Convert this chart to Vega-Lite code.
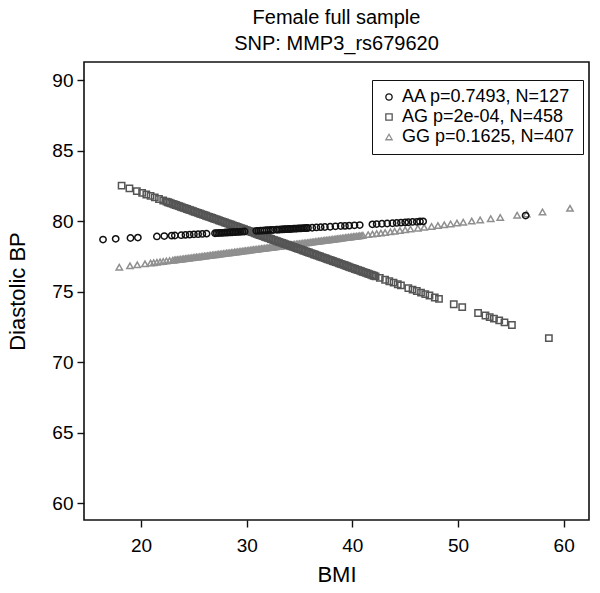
{
  "$schema": "https://vega.github.io/schema/vega-lite/v6.json",
  "width": 505,
  "height": 458,
  "autosize": {"type": "none"},
  "padding": {"left": 84, "top": 62, "right": 11, "bottom": 73},
  "background": "white",
  "config": {
    "font": "Liberation Sans",
    "view": {"stroke": "#111", "strokeWidth": 1.6},
    "axis": {"grid": false, "domain": false, "tickColor": "#111", "tickSize": 7, "tickWidth": 1.4, "labelColor": "#000", "titleColor": "#000", "labelFontSize": 19, "titleFontSize": 22, "titleFontWeight": "normal", "labelFont": "Liberation Sans", "titleFont": "Liberation Sans"},
    "legend": {"labelLimit": 400}
  },
  "title": {
    "text": ["Female full sample", "SNP: MMP3_rs679620"],
    "fontSize": 20,
    "fontWeight": "normal",
    "color": "#000",
    "lineHeight": 26,
    "anchor": "middle",
    "frame": "group",
    "offset": 8
  },
  "data": {
    "values": [
      {"g": "GG", "bmi": 17.94, "dbp": 76.74},
      {"g": "GG", "bmi": 18.95, "dbp": 76.84},
      {"g": "GG", "bmi": 19.64, "dbp": 76.91},
      {"g": "GG", "bmi": 20.37, "dbp": 76.98},
      {"g": "GG", "bmi": 20.9, "dbp": 77.03},
      {"g": "GG", "bmi": 21.2, "dbp": 77.06},
      {"g": "GG", "bmi": 21.5, "dbp": 77.09},
      {"g": "GG", "bmi": 21.8, "dbp": 77.12},
      {"g": "GG", "bmi": 22.1, "dbp": 77.15},
      {"g": "GG", "bmi": 22.4, "dbp": 77.18},
      {"g": "GG", "bmi": 22.7, "dbp": 77.21},
      {"g": "GG", "bmi": 23.0, "dbp": 77.24},
      {"g": "GG", "bmi": 23.15, "dbp": 77.25},
      {"g": "GG", "bmi": 23.3, "dbp": 77.27},
      {"g": "GG", "bmi": 23.45, "dbp": 77.28},
      {"g": "GG", "bmi": 23.6, "dbp": 77.29},
      {"g": "GG", "bmi": 23.75, "dbp": 77.31},
      {"g": "GG", "bmi": 23.9, "dbp": 77.32},
      {"g": "GG", "bmi": 24.05, "dbp": 77.34},
      {"g": "GG", "bmi": 24.2, "dbp": 77.35},
      {"g": "GG", "bmi": 24.35, "dbp": 77.37},
      {"g": "GG", "bmi": 24.5, "dbp": 77.38},
      {"g": "GG", "bmi": 24.65, "dbp": 77.4},
      {"g": "GG", "bmi": 24.8, "dbp": 77.41},
      {"g": "GG", "bmi": 24.95, "dbp": 77.43},
      {"g": "GG", "bmi": 25.1, "dbp": 77.44},
      {"g": "GG", "bmi": 25.25, "dbp": 77.46},
      {"g": "GG", "bmi": 25.4, "dbp": 77.47},
      {"g": "GG", "bmi": 25.55, "dbp": 77.48},
      {"g": "GG", "bmi": 25.7, "dbp": 77.5},
      {"g": "GG", "bmi": 25.85, "dbp": 77.51},
      {"g": "GG", "bmi": 26.0, "dbp": 77.53},
      {"g": "GG", "bmi": 26.15, "dbp": 77.54},
      {"g": "GG", "bmi": 26.3, "dbp": 77.56},
      {"g": "GG", "bmi": 26.45, "dbp": 77.57},
      {"g": "GG", "bmi": 26.6, "dbp": 77.59},
      {"g": "GG", "bmi": 26.75, "dbp": 77.6},
      {"g": "GG", "bmi": 26.9, "dbp": 77.62},
      {"g": "GG", "bmi": 27.05, "dbp": 77.63},
      {"g": "GG", "bmi": 27.2, "dbp": 77.65},
      {"g": "GG", "bmi": 27.35, "dbp": 77.66},
      {"g": "GG", "bmi": 27.5, "dbp": 77.68},
      {"g": "GG", "bmi": 27.65, "dbp": 77.69},
      {"g": "GG", "bmi": 27.8, "dbp": 77.71},
      {"g": "GG", "bmi": 27.95, "dbp": 77.72},
      {"g": "GG", "bmi": 28.1, "dbp": 77.74},
      {"g": "GG", "bmi": 28.25, "dbp": 77.75},
      {"g": "GG", "bmi": 28.4, "dbp": 77.76},
      {"g": "GG", "bmi": 28.55, "dbp": 77.78},
      {"g": "GG", "bmi": 28.7, "dbp": 77.79},
      {"g": "GG", "bmi": 28.85, "dbp": 77.81},
      {"g": "GG", "bmi": 29.0, "dbp": 77.82},
      {"g": "GG", "bmi": 29.15, "dbp": 77.84},
      {"g": "GG", "bmi": 29.3, "dbp": 77.85},
      {"g": "GG", "bmi": 29.45, "dbp": 77.87},
      {"g": "GG", "bmi": 29.6, "dbp": 77.88},
      {"g": "GG", "bmi": 29.75, "dbp": 77.9},
      {"g": "GG", "bmi": 29.9, "dbp": 77.91},
      {"g": "GG", "bmi": 30.05, "dbp": 77.93},
      {"g": "GG", "bmi": 30.2, "dbp": 77.94},
      {"g": "GG", "bmi": 30.35, "dbp": 77.96},
      {"g": "GG", "bmi": 30.5, "dbp": 77.97},
      {"g": "GG", "bmi": 30.65, "dbp": 77.99},
      {"g": "GG", "bmi": 30.8, "dbp": 78.0},
      {"g": "GG", "bmi": 30.95, "dbp": 78.01},
      {"g": "GG", "bmi": 31.1, "dbp": 78.03},
      {"g": "GG", "bmi": 31.25, "dbp": 78.04},
      {"g": "GG", "bmi": 31.4, "dbp": 78.06},
      {"g": "GG", "bmi": 31.55, "dbp": 78.07},
      {"g": "GG", "bmi": 31.7, "dbp": 78.09},
      {"g": "GG", "bmi": 31.85, "dbp": 78.1},
      {"g": "GG", "bmi": 32.0, "dbp": 78.12},
      {"g": "GG", "bmi": 32.15, "dbp": 78.13},
      {"g": "GG", "bmi": 32.3, "dbp": 78.15},
      {"g": "GG", "bmi": 32.45, "dbp": 78.16},
      {"g": "GG", "bmi": 32.6, "dbp": 78.18},
      {"g": "GG", "bmi": 32.75, "dbp": 78.19},
      {"g": "GG", "bmi": 32.9, "dbp": 78.2},
      {"g": "GG", "bmi": 33.05, "dbp": 78.22},
      {"g": "GG", "bmi": 33.2, "dbp": 78.23},
      {"g": "GG", "bmi": 33.35, "dbp": 78.25},
      {"g": "GG", "bmi": 33.5, "dbp": 78.26},
      {"g": "GG", "bmi": 33.65, "dbp": 78.28},
      {"g": "GG", "bmi": 33.8, "dbp": 78.29},
      {"g": "GG", "bmi": 33.95, "dbp": 78.31},
      {"g": "GG", "bmi": 34.1, "dbp": 78.32},
      {"g": "GG", "bmi": 34.25, "dbp": 78.34},
      {"g": "GG", "bmi": 34.4, "dbp": 78.35},
      {"g": "GG", "bmi": 34.55, "dbp": 78.37},
      {"g": "GG", "bmi": 34.7, "dbp": 78.38},
      {"g": "GG", "bmi": 34.85, "dbp": 78.4},
      {"g": "GG", "bmi": 35.0, "dbp": 78.41},
      {"g": "GG", "bmi": 35.15, "dbp": 78.43},
      {"g": "GG", "bmi": 35.3, "dbp": 78.44},
      {"g": "GG", "bmi": 35.45, "dbp": 78.46},
      {"g": "GG", "bmi": 35.6, "dbp": 78.47},
      {"g": "GG", "bmi": 35.75, "dbp": 78.48},
      {"g": "GG", "bmi": 35.9, "dbp": 78.5},
      {"g": "GG", "bmi": 36.05, "dbp": 78.51},
      {"g": "GG", "bmi": 36.2, "dbp": 78.53},
      {"g": "GG", "bmi": 36.35, "dbp": 78.54},
      {"g": "GG", "bmi": 36.5, "dbp": 78.56},
      {"g": "GG", "bmi": 36.65, "dbp": 78.57},
      {"g": "GG", "bmi": 36.8, "dbp": 78.59},
      {"g": "GG", "bmi": 36.95, "dbp": 78.6},
      {"g": "GG", "bmi": 37.1, "dbp": 78.62},
      {"g": "GG", "bmi": 37.25, "dbp": 78.63},
      {"g": "GG", "bmi": 37.4, "dbp": 78.65},
      {"g": "GG", "bmi": 37.55, "dbp": 78.66},
      {"g": "GG", "bmi": 37.7, "dbp": 78.67},
      {"g": "GG", "bmi": 37.85, "dbp": 78.69},
      {"g": "GG", "bmi": 38.0, "dbp": 78.7},
      {"g": "GG", "bmi": 38.15, "dbp": 78.72},
      {"g": "GG", "bmi": 38.3, "dbp": 78.73},
      {"g": "GG", "bmi": 38.45, "dbp": 78.75},
      {"g": "GG", "bmi": 38.6, "dbp": 78.76},
      {"g": "GG", "bmi": 38.75, "dbp": 78.78},
      {"g": "GG", "bmi": 38.9, "dbp": 78.79},
      {"g": "GG", "bmi": 39.05, "dbp": 78.81},
      {"g": "GG", "bmi": 39.2, "dbp": 78.82},
      {"g": "GG", "bmi": 39.35, "dbp": 78.84},
      {"g": "GG", "bmi": 39.5, "dbp": 78.85},
      {"g": "GG", "bmi": 39.65, "dbp": 78.87},
      {"g": "GG", "bmi": 39.8, "dbp": 78.88},
      {"g": "GG", "bmi": 39.95, "dbp": 78.9},
      {"g": "GG", "bmi": 40.1, "dbp": 78.91},
      {"g": "GG", "bmi": 40.25, "dbp": 78.92},
      {"g": "GG", "bmi": 40.4, "dbp": 78.94},
      {"g": "GG", "bmi": 40.55, "dbp": 78.95},
      {"g": "GG", "bmi": 40.7, "dbp": 78.97},
      {"g": "GG", "bmi": 40.85, "dbp": 78.98},
      {"g": "GG", "bmi": 41.0, "dbp": 79.0},
      {"g": "GG", "bmi": 41.5, "dbp": 79.05},
      {"g": "GG", "bmi": 41.9, "dbp": 79.09},
      {"g": "GG", "bmi": 42.3, "dbp": 79.13},
      {"g": "GG", "bmi": 42.7, "dbp": 79.16},
      {"g": "GG", "bmi": 43.1, "dbp": 79.2},
      {"g": "GG", "bmi": 43.6, "dbp": 79.25},
      {"g": "GG", "bmi": 44.0, "dbp": 79.29},
      {"g": "GG", "bmi": 44.5, "dbp": 79.34},
      {"g": "GG", "bmi": 45.0, "dbp": 79.39},
      {"g": "GG", "bmi": 45.5, "dbp": 79.44},
      {"g": "GG", "bmi": 46.2, "dbp": 79.51},
      {"g": "GG", "bmi": 46.8, "dbp": 79.57},
      {"g": "GG", "bmi": 47.5, "dbp": 79.63},
      {"g": "GG", "bmi": 48.1, "dbp": 79.69},
      {"g": "GG", "bmi": 48.7, "dbp": 79.75},
      {"g": "GG", "bmi": 49.3, "dbp": 79.81},
      {"g": "GG", "bmi": 49.9, "dbp": 79.87},
      {"g": "GG", "bmi": 50.5, "dbp": 79.93},
      {"g": "GG", "bmi": 51.3, "dbp": 80.01},
      {"g": "GG", "bmi": 52.1, "dbp": 80.09},
      {"g": "GG", "bmi": 53.1, "dbp": 80.18},
      {"g": "GG", "bmi": 54.0, "dbp": 80.27},
      {"g": "GG", "bmi": 55.6, "dbp": 80.43},
      {"g": "GG", "bmi": 56.5, "dbp": 80.52},
      {"g": "GG", "bmi": 58.0, "dbp": 80.66},
      {"g": "GG", "bmi": 60.6, "dbp": 80.92},
      {"g": "AG", "bmi": 18.16, "dbp": 82.53},
      {"g": "AG", "bmi": 18.9, "dbp": 82.33},
      {"g": "AG", "bmi": 19.6, "dbp": 82.14},
      {"g": "AG", "bmi": 20.1, "dbp": 82.01},
      {"g": "AG", "bmi": 20.5, "dbp": 81.9},
      {"g": "AG", "bmi": 20.9, "dbp": 81.8},
      {"g": "AG", "bmi": 21.3, "dbp": 81.69},
      {"g": "AG", "bmi": 21.7, "dbp": 81.58},
      {"g": "AG", "bmi": 22.1, "dbp": 81.47},
      {"g": "AG", "bmi": 22.4, "dbp": 81.39},
      {"g": "AG", "bmi": 22.55, "dbp": 81.35},
      {"g": "AG", "bmi": 22.7, "dbp": 81.31},
      {"g": "AG", "bmi": 22.85, "dbp": 81.27},
      {"g": "AG", "bmi": 23.0, "dbp": 81.23},
      {"g": "AG", "bmi": 23.15, "dbp": 81.19},
      {"g": "AG", "bmi": 23.3, "dbp": 81.15},
      {"g": "AG", "bmi": 23.45, "dbp": 81.11},
      {"g": "AG", "bmi": 23.6, "dbp": 81.07},
      {"g": "AG", "bmi": 23.75, "dbp": 81.03},
      {"g": "AG", "bmi": 23.9, "dbp": 80.99},
      {"g": "AG", "bmi": 24.05, "dbp": 80.95},
      {"g": "AG", "bmi": 24.2, "dbp": 80.91},
      {"g": "AG", "bmi": 24.35, "dbp": 80.87},
      {"g": "AG", "bmi": 24.5, "dbp": 80.83},
      {"g": "AG", "bmi": 24.65, "dbp": 80.79},
      {"g": "AG", "bmi": 24.8, "dbp": 80.75},
      {"g": "AG", "bmi": 24.95, "dbp": 80.71},
      {"g": "AG", "bmi": 25.1, "dbp": 80.67},
      {"g": "AG", "bmi": 25.25, "dbp": 80.63},
      {"g": "AG", "bmi": 25.4, "dbp": 80.59},
      {"g": "AG", "bmi": 25.55, "dbp": 80.55},
      {"g": "AG", "bmi": 25.7, "dbp": 80.51},
      {"g": "AG", "bmi": 25.85, "dbp": 80.47},
      {"g": "AG", "bmi": 26.0, "dbp": 80.43},
      {"g": "AG", "bmi": 26.15, "dbp": 80.39},
      {"g": "AG", "bmi": 26.3, "dbp": 80.35},
      {"g": "AG", "bmi": 26.45, "dbp": 80.31},
      {"g": "AG", "bmi": 26.6, "dbp": 80.27},
      {"g": "AG", "bmi": 26.75, "dbp": 80.23},
      {"g": "AG", "bmi": 26.9, "dbp": 80.19},
      {"g": "AG", "bmi": 27.05, "dbp": 80.15},
      {"g": "AG", "bmi": 27.2, "dbp": 80.11},
      {"g": "AG", "bmi": 27.35, "dbp": 80.07},
      {"g": "AG", "bmi": 27.5, "dbp": 80.03},
      {"g": "AG", "bmi": 27.65, "dbp": 79.99},
      {"g": "AG", "bmi": 27.8, "dbp": 79.95},
      {"g": "AG", "bmi": 27.95, "dbp": 79.91},
      {"g": "AG", "bmi": 28.1, "dbp": 79.87},
      {"g": "AG", "bmi": 28.25, "dbp": 79.83},
      {"g": "AG", "bmi": 28.4, "dbp": 79.79},
      {"g": "AG", "bmi": 28.55, "dbp": 79.75},
      {"g": "AG", "bmi": 28.7, "dbp": 79.71},
      {"g": "AG", "bmi": 28.85, "dbp": 79.67},
      {"g": "AG", "bmi": 29.0, "dbp": 79.63},
      {"g": "AG", "bmi": 29.15, "dbp": 79.59},
      {"g": "AG", "bmi": 29.3, "dbp": 79.55},
      {"g": "AG", "bmi": 29.45, "dbp": 79.51},
      {"g": "AG", "bmi": 29.6, "dbp": 79.47},
      {"g": "AG", "bmi": 29.75, "dbp": 79.43},
      {"g": "AG", "bmi": 29.9, "dbp": 79.39},
      {"g": "AG", "bmi": 30.05, "dbp": 79.35},
      {"g": "AG", "bmi": 30.2, "dbp": 79.31},
      {"g": "AG", "bmi": 30.35, "dbp": 79.27},
      {"g": "AG", "bmi": 30.5, "dbp": 79.23},
      {"g": "AG", "bmi": 30.65, "dbp": 79.19},
      {"g": "AG", "bmi": 30.8, "dbp": 79.14},
      {"g": "AG", "bmi": 30.95, "dbp": 79.1},
      {"g": "AG", "bmi": 31.1, "dbp": 79.06},
      {"g": "AG", "bmi": 31.25, "dbp": 79.02},
      {"g": "AG", "bmi": 31.4, "dbp": 78.98},
      {"g": "AG", "bmi": 31.55, "dbp": 78.94},
      {"g": "AG", "bmi": 31.7, "dbp": 78.9},
      {"g": "AG", "bmi": 31.85, "dbp": 78.86},
      {"g": "AG", "bmi": 32.0, "dbp": 78.82},
      {"g": "AG", "bmi": 32.15, "dbp": 78.78},
      {"g": "AG", "bmi": 32.3, "dbp": 78.74},
      {"g": "AG", "bmi": 32.45, "dbp": 78.7},
      {"g": "AG", "bmi": 32.6, "dbp": 78.66},
      {"g": "AG", "bmi": 32.75, "dbp": 78.62},
      {"g": "AG", "bmi": 32.9, "dbp": 78.58},
      {"g": "AG", "bmi": 33.05, "dbp": 78.54},
      {"g": "AG", "bmi": 33.2, "dbp": 78.5},
      {"g": "AG", "bmi": 33.35, "dbp": 78.46},
      {"g": "AG", "bmi": 33.5, "dbp": 78.42},
      {"g": "AG", "bmi": 33.65, "dbp": 78.38},
      {"g": "AG", "bmi": 33.8, "dbp": 78.34},
      {"g": "AG", "bmi": 33.95, "dbp": 78.3},
      {"g": "AG", "bmi": 34.1, "dbp": 78.26},
      {"g": "AG", "bmi": 34.25, "dbp": 78.22},
      {"g": "AG", "bmi": 34.4, "dbp": 78.18},
      {"g": "AG", "bmi": 34.55, "dbp": 78.14},
      {"g": "AG", "bmi": 34.7, "dbp": 78.1},
      {"g": "AG", "bmi": 34.85, "dbp": 78.06},
      {"g": "AG", "bmi": 35.0, "dbp": 78.02},
      {"g": "AG", "bmi": 35.15, "dbp": 77.98},
      {"g": "AG", "bmi": 35.3, "dbp": 77.94},
      {"g": "AG", "bmi": 35.45, "dbp": 77.9},
      {"g": "AG", "bmi": 35.6, "dbp": 77.86},
      {"g": "AG", "bmi": 35.75, "dbp": 77.82},
      {"g": "AG", "bmi": 35.9, "dbp": 77.78},
      {"g": "AG", "bmi": 36.05, "dbp": 77.74},
      {"g": "AG", "bmi": 36.2, "dbp": 77.7},
      {"g": "AG", "bmi": 36.35, "dbp": 77.66},
      {"g": "AG", "bmi": 36.5, "dbp": 77.62},
      {"g": "AG", "bmi": 36.65, "dbp": 77.58},
      {"g": "AG", "bmi": 36.8, "dbp": 77.54},
      {"g": "AG", "bmi": 36.95, "dbp": 77.5},
      {"g": "AG", "bmi": 37.1, "dbp": 77.46},
      {"g": "AG", "bmi": 37.25, "dbp": 77.42},
      {"g": "AG", "bmi": 37.4, "dbp": 77.38},
      {"g": "AG", "bmi": 37.55, "dbp": 77.34},
      {"g": "AG", "bmi": 37.7, "dbp": 77.3},
      {"g": "AG", "bmi": 37.85, "dbp": 77.26},
      {"g": "AG", "bmi": 38.0, "dbp": 77.22},
      {"g": "AG", "bmi": 38.15, "dbp": 77.18},
      {"g": "AG", "bmi": 38.3, "dbp": 77.14},
      {"g": "AG", "bmi": 38.45, "dbp": 77.1},
      {"g": "AG", "bmi": 38.6, "dbp": 77.06},
      {"g": "AG", "bmi": 38.75, "dbp": 77.02},
      {"g": "AG", "bmi": 38.9, "dbp": 76.98},
      {"g": "AG", "bmi": 39.05, "dbp": 76.94},
      {"g": "AG", "bmi": 39.2, "dbp": 76.9},
      {"g": "AG", "bmi": 39.35, "dbp": 76.86},
      {"g": "AG", "bmi": 39.5, "dbp": 76.81},
      {"g": "AG", "bmi": 39.65, "dbp": 76.77},
      {"g": "AG", "bmi": 39.8, "dbp": 76.73},
      {"g": "AG", "bmi": 39.95, "dbp": 76.69},
      {"g": "AG", "bmi": 40.1, "dbp": 76.65},
      {"g": "AG", "bmi": 40.25, "dbp": 76.61},
      {"g": "AG", "bmi": 40.4, "dbp": 76.57},
      {"g": "AG", "bmi": 40.55, "dbp": 76.53},
      {"g": "AG", "bmi": 40.7, "dbp": 76.49},
      {"g": "AG", "bmi": 40.85, "dbp": 76.45},
      {"g": "AG", "bmi": 41.0, "dbp": 76.41},
      {"g": "AG", "bmi": 41.15, "dbp": 76.37},
      {"g": "AG", "bmi": 41.3, "dbp": 76.33},
      {"g": "AG", "bmi": 41.45, "dbp": 76.29},
      {"g": "AG", "bmi": 41.6, "dbp": 76.25},
      {"g": "AG", "bmi": 41.75, "dbp": 76.21},
      {"g": "AG", "bmi": 41.9, "dbp": 76.17},
      {"g": "AG", "bmi": 42.05, "dbp": 76.13},
      {"g": "AG", "bmi": 42.2, "dbp": 76.09},
      {"g": "AG", "bmi": 42.6, "dbp": 75.98},
      {"g": "AG", "bmi": 43.1, "dbp": 75.85},
      {"g": "AG", "bmi": 43.5, "dbp": 75.74},
      {"g": "AG", "bmi": 43.9, "dbp": 75.64},
      {"g": "AG", "bmi": 44.3, "dbp": 75.53},
      {"g": "AG", "bmi": 44.6, "dbp": 75.45},
      {"g": "AG", "bmi": 45.3, "dbp": 75.26},
      {"g": "AG", "bmi": 45.7, "dbp": 75.15},
      {"g": "AG", "bmi": 46.1, "dbp": 75.05},
      {"g": "AG", "bmi": 46.5, "dbp": 74.94},
      {"g": "AG", "bmi": 46.9, "dbp": 74.83},
      {"g": "AG", "bmi": 47.3, "dbp": 74.73},
      {"g": "AG", "bmi": 47.8, "dbp": 74.59},
      {"g": "AG", "bmi": 48.2, "dbp": 74.49},
      {"g": "AG", "bmi": 49.6, "dbp": 74.11},
      {"g": "AG", "bmi": 50.4, "dbp": 73.9},
      {"g": "AG", "bmi": 51.9, "dbp": 73.49},
      {"g": "AG", "bmi": 52.6, "dbp": 73.31},
      {"g": "AG", "bmi": 53.0, "dbp": 73.2},
      {"g": "AG", "bmi": 53.4, "dbp": 73.09},
      {"g": "AG", "bmi": 53.9, "dbp": 72.96},
      {"g": "AG", "bmi": 54.4, "dbp": 72.82},
      {"g": "AG", "bmi": 55.1, "dbp": 72.64},
      {"g": "AG", "bmi": 58.6, "dbp": 71.7},
      {"g": "AA", "bmi": 16.4, "dbp": 78.7},
      {"g": "AA", "bmi": 17.6, "dbp": 78.75},
      {"g": "AA", "bmi": 19.0, "dbp": 78.81},
      {"g": "AA", "bmi": 19.7, "dbp": 78.84},
      {"g": "AA", "bmi": 21.5, "dbp": 78.92},
      {"g": "AA", "bmi": 22.2, "dbp": 78.95},
      {"g": "AA", "bmi": 22.9, "dbp": 78.98},
      {"g": "AA", "bmi": 23.2, "dbp": 78.99},
      {"g": "AA", "bmi": 23.8, "dbp": 79.01},
      {"g": "AA", "bmi": 24.2, "dbp": 79.03},
      {"g": "AA", "bmi": 24.6, "dbp": 79.05},
      {"g": "AA", "bmi": 25.0, "dbp": 79.07},
      {"g": "AA", "bmi": 25.4, "dbp": 79.08},
      {"g": "AA", "bmi": 25.8, "dbp": 79.1},
      {"g": "AA", "bmi": 26.2, "dbp": 79.12},
      {"g": "AA", "bmi": 27.0, "dbp": 79.15},
      {"g": "AA", "bmi": 27.15, "dbp": 79.16},
      {"g": "AA", "bmi": 27.3, "dbp": 79.16},
      {"g": "AA", "bmi": 27.45, "dbp": 79.17},
      {"g": "AA", "bmi": 27.6, "dbp": 79.18},
      {"g": "AA", "bmi": 27.75, "dbp": 79.18},
      {"g": "AA", "bmi": 27.9, "dbp": 79.19},
      {"g": "AA", "bmi": 28.05, "dbp": 79.2},
      {"g": "AA", "bmi": 28.2, "dbp": 79.2},
      {"g": "AA", "bmi": 28.35, "dbp": 79.21},
      {"g": "AA", "bmi": 28.5, "dbp": 79.21},
      {"g": "AA", "bmi": 28.65, "dbp": 79.22},
      {"g": "AA", "bmi": 28.8, "dbp": 79.23},
      {"g": "AA", "bmi": 28.95, "dbp": 79.23},
      {"g": "AA", "bmi": 29.1, "dbp": 79.24},
      {"g": "AA", "bmi": 29.25, "dbp": 79.25},
      {"g": "AA", "bmi": 29.4, "dbp": 79.25},
      {"g": "AA", "bmi": 29.6, "dbp": 79.26},
      {"g": "AA", "bmi": 29.8, "dbp": 79.27},
      {"g": "AA", "bmi": 30.9, "dbp": 79.32},
      {"g": "AA", "bmi": 31.1, "dbp": 79.32},
      {"g": "AA", "bmi": 31.3, "dbp": 79.33},
      {"g": "AA", "bmi": 31.5, "dbp": 79.34},
      {"g": "AA", "bmi": 31.7, "dbp": 79.35},
      {"g": "AA", "bmi": 31.9, "dbp": 79.36},
      {"g": "AA", "bmi": 32.1, "dbp": 79.37},
      {"g": "AA", "bmi": 32.3, "dbp": 79.38},
      {"g": "AA", "bmi": 32.5, "dbp": 79.38},
      {"g": "AA", "bmi": 32.8, "dbp": 79.4},
      {"g": "AA", "bmi": 32.95, "dbp": 79.4},
      {"g": "AA", "bmi": 33.1, "dbp": 79.41},
      {"g": "AA", "bmi": 33.25, "dbp": 79.42},
      {"g": "AA", "bmi": 33.4, "dbp": 79.42},
      {"g": "AA", "bmi": 33.55, "dbp": 79.43},
      {"g": "AA", "bmi": 33.7, "dbp": 79.44},
      {"g": "AA", "bmi": 33.85, "dbp": 79.44},
      {"g": "AA", "bmi": 34.0, "dbp": 79.45},
      {"g": "AA", "bmi": 34.15, "dbp": 79.45},
      {"g": "AA", "bmi": 34.3, "dbp": 79.46},
      {"g": "AA", "bmi": 34.45, "dbp": 79.47},
      {"g": "AA", "bmi": 34.6, "dbp": 79.47},
      {"g": "AA", "bmi": 34.75, "dbp": 79.48},
      {"g": "AA", "bmi": 34.9, "dbp": 79.49},
      {"g": "AA", "bmi": 35.05, "dbp": 79.49},
      {"g": "AA", "bmi": 35.2, "dbp": 79.5},
      {"g": "AA", "bmi": 35.35, "dbp": 79.51},
      {"g": "AA", "bmi": 35.5, "dbp": 79.51},
      {"g": "AA", "bmi": 35.65, "dbp": 79.52},
      {"g": "AA", "bmi": 35.8, "dbp": 79.52},
      {"g": "AA", "bmi": 36.2, "dbp": 79.54},
      {"g": "AA", "bmi": 36.6, "dbp": 79.56},
      {"g": "AA", "bmi": 37.0, "dbp": 79.58},
      {"g": "AA", "bmi": 37.4, "dbp": 79.59},
      {"g": "AA", "bmi": 37.9, "dbp": 79.61},
      {"g": "AA", "bmi": 38.4, "dbp": 79.64},
      {"g": "AA", "bmi": 38.9, "dbp": 79.66},
      {"g": "AA", "bmi": 39.3, "dbp": 79.67},
      {"g": "AA", "bmi": 39.7, "dbp": 79.69},
      {"g": "AA", "bmi": 40.2, "dbp": 79.71},
      {"g": "AA", "bmi": 40.7, "dbp": 79.73},
      {"g": "AA", "bmi": 41.9, "dbp": 79.78},
      {"g": "AA", "bmi": 42.3, "dbp": 79.8},
      {"g": "AA", "bmi": 42.8, "dbp": 79.82},
      {"g": "AA", "bmi": 43.3, "dbp": 79.84},
      {"g": "AA", "bmi": 43.8, "dbp": 79.86},
      {"g": "AA", "bmi": 44.2, "dbp": 79.88},
      {"g": "AA", "bmi": 44.6, "dbp": 79.9},
      {"g": "AA", "bmi": 45.0, "dbp": 79.92},
      {"g": "AA", "bmi": 45.3, "dbp": 79.93},
      {"g": "AA", "bmi": 45.7, "dbp": 79.95},
      {"g": "AA", "bmi": 46.1, "dbp": 79.96},
      {"g": "AA", "bmi": 46.4, "dbp": 79.98},
      {"g": "AA", "bmi": 46.7, "dbp": 79.99},
      {"g": "AA", "bmi": 56.4, "dbp": 80.4}
    ]
  },
  "mark": {"type": "point", "filled": false, "strokeWidth": 1.5, "opacity": 1},
  "encoding": {
    "x": {
      "field": "bmi", "type": "quantitative", "title": "BMI",
      "scale": {"domain": [14.6, 62.4], "nice": false, "zero": false},
      "axis": {"values": [20, 30, 40, 50, 60], "labelPadding": 9, "titlePadding": 9}
    },
    "y": {
      "field": "dbp", "type": "quantitative", "title": "Diastolic BP",
      "scale": {"domain": [58.8, 91.3], "nice": false, "zero": false},
      "axis": {"values": [60, 65, 70, 75, 80, 85, 90], "labelPadding": 4, "titlePadding": 22}
    },
    "shape": {
      "field": "g", "type": "nominal",
      "scale": {"domain": ["AA", "AG", "GG"], "range": ["circle", "square", "triangle-up"]},
      "legend": {
        "title": null,
        "orient": "none",
        "legendX": 288,
        "legendY": 18,
        "direction": "vertical",
        "strokeColor": "#111",
        "fillColor": "white",
        "padding": 8,
        "rowPadding": 2,
        "labelFontSize": 18,
        "labelColor": "#000",
        "labelFont": "Liberation Sans",
        "labelLimit": 400,
        "symbolStrokeWidth": 1.3,
        "labelExpr": "datum.label == 'AA' ? 'AA p=0.7493, N=127' : datum.label == 'AG' ? 'AG p=2e-04, N=458' : 'GG p=0.1625, N=407'"
      }
    },
    "color": {
      "field": "g", "type": "nominal",
      "scale": {"domain": ["AA", "AG", "GG"], "range": ["#111111", "#555555", "#8f8f8f"]},
      "legend": {
        "title": null,
        "orient": "none",
        "legendX": 288,
        "legendY": 18,
        "direction": "vertical",
        "strokeColor": "#111",
        "fillColor": "white",
        "padding": 8,
        "rowPadding": 2,
        "labelFontSize": 18,
        "labelColor": "#000",
        "labelFont": "Liberation Sans",
        "labelLimit": 400,
        "symbolStrokeWidth": 1.3,
        "labelExpr": "datum.label == 'AA' ? 'AA p=0.7493, N=127' : datum.label == 'AG' ? 'AG p=2e-04, N=458' : 'GG p=0.1625, N=407'"
      }
    },
    "size": {
      "field": "g", "type": "nominal",
      "scale": {"domain": ["AA", "AG", "GG"], "range": [40, 40, 60]},
      "legend": {
        "title": null,
        "orient": "none",
        "legendX": 288,
        "legendY": 18,
        "direction": "vertical",
        "strokeColor": "#111",
        "fillColor": "white",
        "padding": 8,
        "rowPadding": 2,
        "labelFontSize": 18,
        "labelColor": "#000",
        "labelFont": "Liberation Sans",
        "labelLimit": 400,
        "symbolStrokeWidth": 1.3,
        "labelExpr": "datum.label == 'AA' ? 'AA p=0.7493, N=127' : datum.label == 'AG' ? 'AG p=2e-04, N=458' : 'GG p=0.1625, N=407'"
      }
    }
  }
}
